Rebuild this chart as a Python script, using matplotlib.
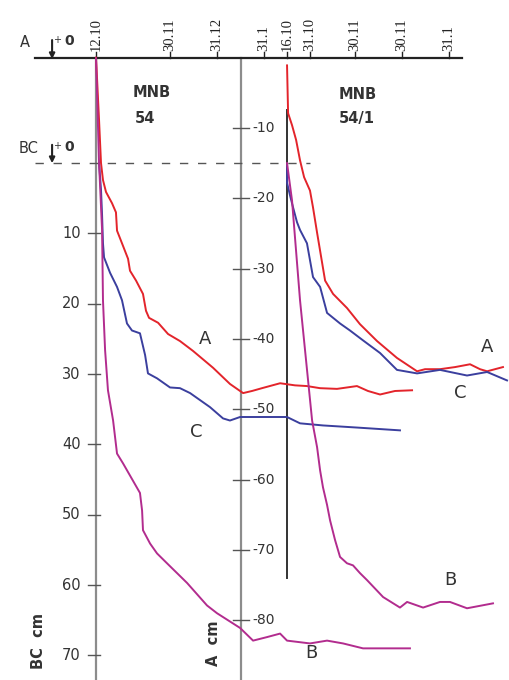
import matplotlib
matplotlib.use("Agg")
import matplotlib.pyplot as plt

plt.rcParams['font.family'] = ['DejaVu Sans']

# --- measurements -------------------------------------------------------
# x: days since the first reading of each well, y: depth in cm
# A values are read on the A scale (0 at the top line, negative downwards),
# B and C values on the BC scale (0 at the dashed line, positive downwards).

# MNB 54 (start 12.10)
left_a_days = [0, 2.0, 3.3, 4.6, 6.6, 10.6, 13.2, 13.9, 17.2, 21.2, 22.5, 26.5, 31.1,
               33.1, 35.1, 41.1, 47.7, 55.6, 64.2, 77.5, 88.7, 97.4, 103.3, 109.9,
               121.9, 131.8, 139.7, 148.3, 159.6, 172.8, 180.1, 188.1, 198.0, 209.3]
left_a_cm = [0, -8.9, -15.0, -17.4, -19.1, -20.7, -22.0, -24.6, -26.4, -28.6, -30.3,
             -31.7, -33.6, -36.0, -37.0, -37.7, -39.3, -40.3, -41.7, -44.1, -46.4,
             -47.7, -47.4, -47.0, -46.3, -46.6, -46.7, -47.0, -47.1, -46.7, -47.4,
             -47.9, -47.4, -47.3]

left_b_days = [0, 2.0, 4.0, 4.6, 6.0, 7.9, 11.3, 13.9, 17.9, 29.1, 30.5, 31.1, 35.8,
               40.4, 47.0, 60.3, 73.5, 80.1, 95.4, 104.0, 113.2, 121.9, 126.5, 141.7,
               153.0, 163.6, 176.8, 207.9]
left_b_cm = [-14.9, 0, 9.5, 19.5, 26.6, 32.3, 36.6, 41.3, 42.7, 46.9, 49.4, 52.2, 54.1,
             55.5, 56.9, 59.7, 62.9, 64.0, 66.1, 67.9, 67.4, 66.9, 67.9, 68.3, 67.9,
             68.3, 69.0, 69.0]

left_c_days = [2.0, 3.3, 4.0, 4.6, 5.3, 9.3, 13.9, 17.2, 20.5, 23.8, 29.1, 32.5, 34.4,
               40.4, 49.0, 55.6, 62.3, 75.5, 84.1, 88.7, 95.4, 115.2, 126.5, 135.1,
               150.3, 172.8, 201.3]
left_c_cm = [0, 3.8, 7.4, 11.4, 13.4, 15.6, 17.6, 19.5, 22.8, 23.8, 24.2, 27.3, 29.9,
             30.6, 31.9, 32.0, 32.7, 34.7, 36.3, 36.6, 36.1, 36.1, 36.1, 37.0, 37.3,
             37.6, 38.0]

# MNB 54/1 (start 16.10)
right_a_days = [0, 0.7, 3.3, 6.0, 8.6, 11.3, 15.2, 17.2, 19.9, 25.2, 30.5, 39.7, 48.3,
                59.6, 72.8, 86.1, 91.4, 101.3, 111.3, 121.2, 127.8, 132.5, 143.0]
right_a_cm = [-1.1, -7.9, -9.6, -11.7, -14.6, -17.0, -18.9, -21.3, -24.9, -31.7, -33.6,
              -35.6, -37.9, -40.3, -42.7, -44.6, -44.3, -44.3, -44.0, -43.6, -44.3,
              -44.6, -44.0]

right_b_days = [0, 3.3, 8.6, 16.6, 19.9, 21.9, 23.8, 26.5, 28.5, 31.8, 35.1, 39.7, 43.7,
                48.3, 53.0, 63.6, 74.8, 79.5, 90.1, 101.3, 107.9, 119.2, 136.4]
right_b_cm = [0, 5.3, 19.5, 36.6, 40.4, 43.7, 46.1, 48.6, 50.8, 53.6, 56.0, 56.9, 57.2,
              58.3, 59.3, 61.7, 63.2, 62.4, 63.2, 62.4, 62.4, 63.3, 62.6]

right_c_days = [0, 0, 2.0, 4.0, 6.6, 8.6, 13.2, 17.2, 21.9, 26.5, 35.1, 41.7, 50.3, 61.6,
                72.8, 86.1, 101.3, 119.2, 132.5, 145.7]
right_c_cm = [0.3, 2.8, 4.6, 6.3, 8.4, 9.5, 11.4, 16.2, 17.6, 21.3, 22.8, 23.8, 25.2,
              27.0, 29.4, 29.9, 29.4, 30.2, 29.7, 30.9]

# date ticks on the top line
left_tick_days = [0, 49, 80, 111]
left_tick_labels = ['12.10', '30.11', '31.12', '31.1']
right_tick_days = [0, 15, 45, 76, 107]
right_tick_labels = ['16.10', '31.10', '30.11', '30.11', '31.1']

bc_ticks = [10, 20, 30, 40, 50, 60, 70]
a_ticks = [-10, -20, -30, -40, -50, -60, -70, -80]

# --- layout -------------------------------------------------------------
A_OFFSET = 15        # A = 0 lies 15 cm above BC = 0
RIGHT_X0 = 126.5     # where the MNB 54/1 time axis starts
A_AXIS_X = 96.0      # position of the A scale
RED = '#e3242b'
BLUE = '#3b3f9e'
MAGENTA = '#b22c8e'
GREY = '#8c8c8c'
TXT = '#333333'


def a_to_bc(values):
    return [-v - A_OFFSET for v in values]


def shift(days):
    return [d + RIGHT_X0 for d in days]


fig = plt.figure(figsize=(5.09, 6.80), dpi=100)
ax = fig.add_axes([0, 0, 1, 1])
ax.set_xlim(-63.6, 273.5)
ax.set_ylim(73.5, -23.2)
ax.axis('off')

# frame lines
ax.plot([-40.4, 242.4], [-A_OFFSET, -A_OFFSET], color='#222222', lw=1.6, zorder=3)
ax.plot([0, 0], [-A_OFFSET, 73.5], color=GREY, lw=1.6, zorder=1)
ax.plot([A_AXIS_X, A_AXIS_X], [-A_OFFSET, 73.5], color=GREY, lw=1.6, zorder=1)
ax.plot([RIGHT_X0, RIGHT_X0], [-7.5, 59.0], color='#333333', lw=1.4, zorder=1)
ax.plot([-40.4, 141.7], [0, 0], color='#555555', lw=1.0, dashes=(6, 7), zorder=1)

# BC scale
for t in bc_ticks:
    ax.plot([-5.3, 2.6], [t, t], color='#555555', lw=1.0)
    ax.text(-10.0, t, str(t), ha='right', va='center', fontsize=10.5, color=TXT)

# A scale
for t in a_ticks:
    y = -t - A_OFFSET
    ax.plot([A_AXIS_X - 5.3, A_AXIS_X + 5.3], [y, y], color='#555555', lw=1.0)
    ax.text(A_AXIS_X + 7.5, y, str(t), ha='left', va='center', fontsize=10, color=TXT)

# date ticks
for d, lab in list(zip(left_tick_days, left_tick_labels)) + \
        list(zip(shift(right_tick_days), right_tick_labels)):
    ax.plot([d, d], [-A_OFFSET, -A_OFFSET - 0.8], color='#222222', lw=1.0)
    ax.text(d, -A_OFFSET - 0.9, lab, rotation=90, ha='center', va='bottom',
            fontsize=10.5, family='Liberation Serif', color='#222222')

# curves
lw = 1.4
ax.plot(left_a_days, a_to_bc(left_a_cm), color=RED, lw=lw, zorder=4)
ax.plot(left_c_days, left_c_cm, color=BLUE, lw=lw, zorder=4)
ax.plot(left_b_days, left_b_cm, color=MAGENTA, lw=lw, zorder=5)
ax.plot(shift(right_a_days), a_to_bc(right_a_cm), color=RED, lw=lw, zorder=4)
ax.plot(shift(right_c_days), right_c_cm, color=BLUE, lw=lw, zorder=4)
ax.plot(shift(right_b_days), right_b_cm, color=MAGENTA, lw=lw, zorder=5)

# curve names
for x, y, s in [(72.2, 25.0, 'A'), (66.2, 38.3, 'C'), (142.4, 69.7, 'B'),
                (259.0, 26.2, 'A'), (241.0, 32.7, 'C'), (235.0, 59.3, 'B')]:
    ax.text(x, y, s, ha='center', va='center', fontsize=13, color=TXT)

# well names
ax.text(24.5, -10.0, 'MNB', ha='left', va='center', fontsize=10.5,
        fontweight='bold', color=TXT)
ax.text(25.5, -6.4, '54', ha='left', va='center', fontsize=10.5,
        fontweight='bold', color=TXT)
ax.text(160.5, -9.8, 'MNB', ha='left', va='center', fontsize=10.5,
        fontweight='bold', color=TXT)
ax.text(160.5, -6.3, '54/1', ha='left', va='center', fontsize=10.5,
        fontweight='bold', color=TXT)

# zero markers for the two scales
for name, ytxt, y0, y1 in [('A', -17.2, -17.9, -14.4), ('BC', -2.1, -3.0, 0.4)]:
    ax.text(-47.0 if name == 'A' else -45.0, ytxt, name, ha='center', va='center',
            fontsize=10.5, color=TXT)
    ax.annotate('', xy=(-29.1, y1), xytext=(-29.1, y0),
                arrowprops=dict(arrowstyle='-|>', color='#222222', lw=1.5,
                                mutation_scale=8))
    ax.text(-25.6, ytxt - 0.3, '+', ha='center', va='center', fontsize=7, color=TXT)
    ax.text(-18.0, ytxt - 0.2, '0', ha='center', va='center', fontsize=10,
            fontweight='bold', color=TXT)

# axis titles
ax.text(-38.4, 68.0, 'BC  cm', rotation=90, ha='center', va='center',
        fontsize=10.5, fontweight='bold', color=TXT)
ax.text(77.5, 68.3, 'A  cm', rotation=90, ha='center', va='center',
        fontsize=10.5, fontweight='bold', color=TXT)

fig.savefig('out.png', dpi=100)
